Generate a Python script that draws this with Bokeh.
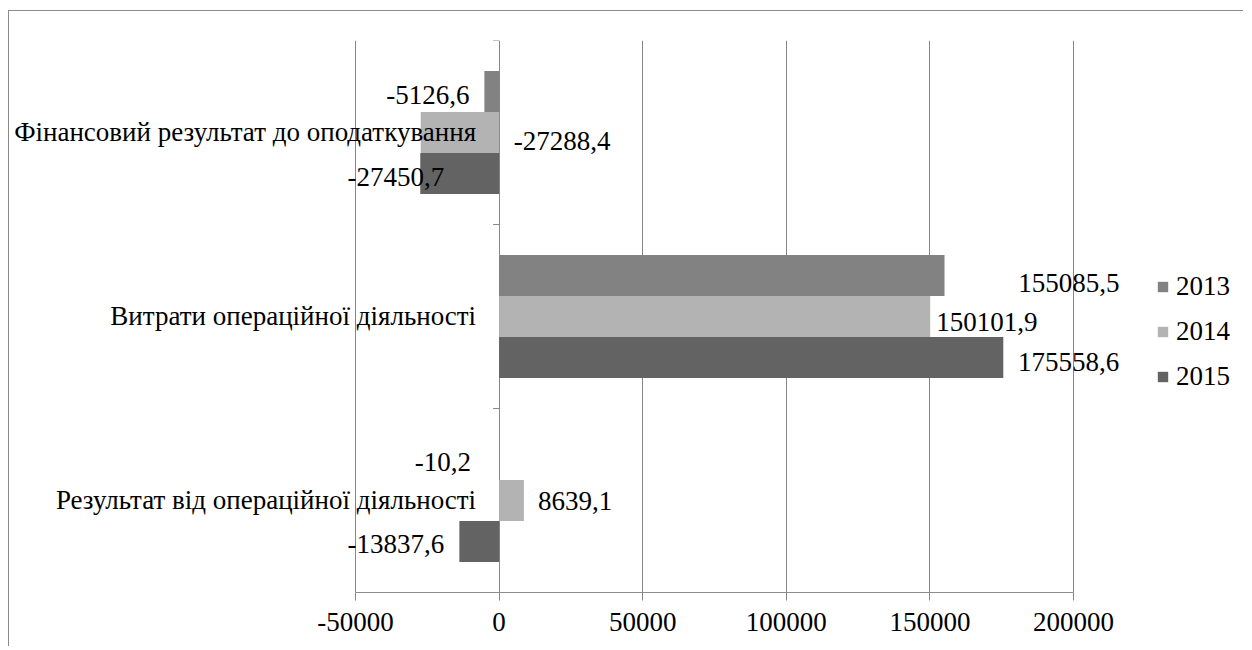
from bokeh.plotting import figure
from bokeh.models import Range1d, FixedTicker, Legend, LegendItem, ColumnDataSource, NumeralTickFormatter
from bokeh.core.properties import value
from bokeh.embed import file_html
from bokeh.resources import INLINE

# ---- data (categories listed bottom to top) ----
categories = [
    "Результат від операційної діяльності",
    "Витрати операційної діяльності",
    "Фінансовий результат до оподаткування",
]
years = ["2013", "2014", "2015"]
v2013 = [-10.2, 155085.5, -5126.6]
v2014 = [8639.1, 150101.9, -27288.4]
v2015 = [-13837.6, 175558.6, -27450.7]
x_ticks = [-50000, 0, 50000, 100000, 150000, 200000]

series = {"2013": v2013, "2014": v2014, "2015": v2015}
colors = {"2013": "#828282", "2014": "#b3b3b3", "2015": "#636363"}

# ---- layout / style constants ----
FONT = "Liberation Serif"
FS = "27px"
X0, X1 = x_ticks[0], x_ticks[-1]
AXIS_PX = 718            # pixel length of the value axis
AXIS_LEFT_PX = 346       # distance from canvas left to the -50000 line
FRAME_W, FRAME_H = 1234, 552
scale = AXIS_PX / (X1 - X0)
x_start = X0 - AXIS_LEFT_PX / scale
x_end = x_start + FRAME_W / scale

BAR_H = 41 / 184.0
offsets = {"2013": BAR_H, "2014": 0.0, "2015": -BAR_H}
# label placement (align, dx px, dy px) per category index and year
label_pos = {
    (0, "2013"): ("right", -28, 2),
    (0, "2014"): ("left", 14, 0),
    (0, "2015"): ("right", -15, 2),
    (1, "2013"): ("right", 175, 7),
    (1, "2014"): ("left", 6, 5),
    (1, "2015"): ("right", 116, 4),
    (2, "2013"): ("right", -15, 3),
    (2, "2014"): ("left", 93, 8),
    (2, "2015"): ("right", 24, 3),
}

p = figure(
    frame_width=FRAME_W, frame_height=FRAME_H,
    x_range=Range1d(x_start, x_end), y_range=Range1d(-0.5, len(categories) - 0.5),
    output_backend="svg", toolbar_location=None, y_axis_location=None,
    min_border_left=0, min_border_right=0, min_border_top=29, min_border_bottom=54,
)
p.styles = {"margin-top": "10px", "margin-left": "8px",
            "border-top": "1px solid #8a8a8a", "border-left": "1px solid #8a8a8a"}
p.outline_line_color = None
p.background_fill_color = "white"
p.border_fill_color = "white"

p.ygrid.visible = False
p.xgrid.ticker = FixedTicker(ticks=x_ticks)
p.xgrid.grid_line_color = "#878787"
p.xgrid.grid_line_width = 1

ax = p.xaxis[0]
ax.ticker = FixedTicker(ticks=x_ticks)
ax.bounds = (X0, X1)
ax.formatter = NumeralTickFormatter(format="0")
ax.axis_line_color = "#8c8c8c"
ax.major_tick_line_color = "#878787"
ax.major_tick_in = 0
ax.major_tick_out = 8
ax.minor_tick_line_color = None
ax.major_label_text_font = FONT
ax.major_label_text_font_size = FS
ax.major_label_text_color = "black"
ax.major_label_standoff = 12

renderers = {}
lx, ly, lt, la, ldx, ldy = [], [], [], [], [], []
for yr in years:
    vals = series[yr]
    ys = [i + offsets[yr] for i in range(len(categories))]
    src = ColumnDataSource(dict(y=ys, right=vals))
    renderers[yr] = p.hbar(y="y", left=0, right="right", height=BAR_H, source=src,
                           fill_color=colors[yr], line_color=None)
    for i, v in enumerate(vals):
        align, dx, dy = label_pos[(i, yr)]
        lx.append(v)
        ly.append(ys[i])
        lt.append(f"{v:.1f}".replace(".", ","))
        la.append(align)
        ldx.append(dx)
        ldy.append(dy)

lab_src = ColumnDataSource(dict(x=lx, y=ly, text=lt, align=la, dx=ldx, dy=ldy))
p.text(x="x", y="y", text="text", source=lab_src, text_align="align", x_offset="dx", y_offset="dy",
       text_baseline="middle", text_font=value(FONT), text_font_size=value(FS), text_color="black")

# category labels next to the zero axis
cat_src = ColumnDataSource(dict(x=[0] * len(categories), y=list(range(len(categories))), text=categories))
p.text(x="x", y="y", text="text", source=cat_src, text_align="right", x_offset=-23, y_offset=-1,
       text_baseline="middle", text_font=value(FONT), text_font_size=value(FS), text_color="black")

# category separator ticks on the zero axis
tick_len = 6 / scale
seps = [i - 0.5 for i in range(len(categories) + 1)]
p.segment(x0=[0] * len(seps), x1=[-tick_len] * len(seps), y0=seps, y1=seps, line_color="#878787", line_width=1)

legend = Legend(
    items=[LegendItem(label=yr, renderers=[renderers[yr]]) for yr in years],
    location=(1147, 200), orientation="vertical",
    glyph_width=13, glyph_height=13, label_standoff=7, spacing=14, label_height=30,
    padding=0, margin=0, border_line_color=None, background_fill_alpha=0,
    label_text_font=FONT, label_text_font_size=FS, label_text_color="black",
)
p.add_layout(legend)

open("out.html", "w").write(file_html(p, INLINE))
